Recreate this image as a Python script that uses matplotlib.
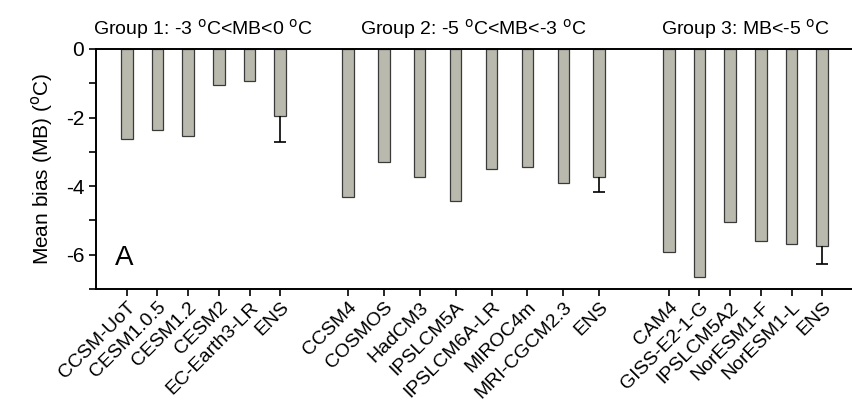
import matplotlib
matplotlib.use("Agg")
import matplotlib.pyplot as plt
import numpy as np

plt.rcParams.update({
    "font.family": ["Liberation Sans", "DejaVu Sans"],
    "font.size": 11,
})

# --- data (mean bias, deg C) ---
group1_models = ["CCSM-UoT", "CESM1.0.5", "CESM1.2", "CESM2", "EC-Earth3-LR", "ENS"]
group1_mb = [-2.63, -2.35, -2.54, -1.06, -0.92, -1.95]
group1_err = 0.75

group2_models = ["CCSM4", "COSMOS", "HadCM3", "IPSLCM5A", "IPSLCM6A-LR", "MIROC4m",
                 "MRI-CGCM2.3", "ENS"]
group2_mb = [-4.31, -3.29, -3.74, -4.44, -3.49, -3.43, -3.90, -3.74]
group2_err = 0.43

group3_models = ["CAM4", "GISS-E2-1-G", "IPSLCM5A2", "NorESM1-F", "NorESM1-L", "ENS"]
group3_mb = [-5.93, -6.65, -5.05, -5.61, -5.69, -5.75]
group3_err = 0.52

group_titles = ["Group 1: -3 $^{\\rm o}$C<MB<0 $^{\\rm o}$C",
                "Group 2: -5 $^{\\rm o}$C<MB<-3 $^{\\rm o}$C",
                "Group 3: MB<-5 $^{\\rm o}$C"]

# layout of each group on the x axis: (first position, spacing)
layout = [(1.0, 1.0), (8.2, 1.17), (18.65, 1.0)]

BAR, EDGE = "#b9baad", "#3a3a3a"

fig = plt.figure(figsize=(8.53, 4.17), dpi=100)
ax = fig.add_axes([0.1125, 0.307, 0.8875, 0.5755])

groups = [(group1_models, group1_mb, group1_err),
          (group2_models, group2_mb, group2_err),
          (group3_models, group3_mb, group3_err)]

all_pos, all_lab = [], []
for (models, mb, err), (x0, step), title in zip(groups, layout, group_titles):
    pos = x0 + step * np.arange(len(models))
    ax.bar(pos, mb, width=0.38, color=BAR, edgecolor=EDGE, linewidth=0.9, zorder=2)
    # one-sided error bar (cap only at the lower end) on the ensemble mean
    ax.vlines(pos[-1], mb[-1] - err, mb[-1], color="black", lw=1.2, zorder=3)
    ax.hlines(mb[-1] - err, pos[-1] - 0.2, pos[-1] + 0.2, color="black", lw=1.2, zorder=3)
    all_pos.extend(pos)
    all_lab.extend(models)
    ax.text(pos.mean(), 1.035, title, transform=ax.get_xaxis_transform(),
            ha="center", va="bottom", fontsize=14)

ax.set_xlim(0, 24.65)
ax.set_ylim(-7, 0)
ax.set_yticks([0, -2, -4, -6])
ax.set_yticklabels(["0", "-2", "-4", "-6"], fontsize=15)
ax.set_yticks([-1, -3, -5, -7], minor=True)
ax.tick_params(axis="y", which="both", direction="out", length=5, width=1.2)
ax.set_xticks(all_pos)
ax.set_xticklabels(all_lab, rotation=45, ha="right", rotation_mode="anchor", fontsize=14)
ax.tick_params(axis="x", direction="out", length=5, width=1.2, pad=2)
ax.set_ylabel("Mean bias (MB) ($^{\\rm o}$C)", fontsize=15, labelpad=8)

for s in ["left", "bottom", "top"]:
    ax.spines[s].set_linewidth(1.4)
ax.spines["right"].set_visible(False)

ax.text(0.025, 0.075, "A", transform=ax.transAxes, fontsize=20, ha="left", va="bottom")

fig.savefig("out.png", dpi=100)
